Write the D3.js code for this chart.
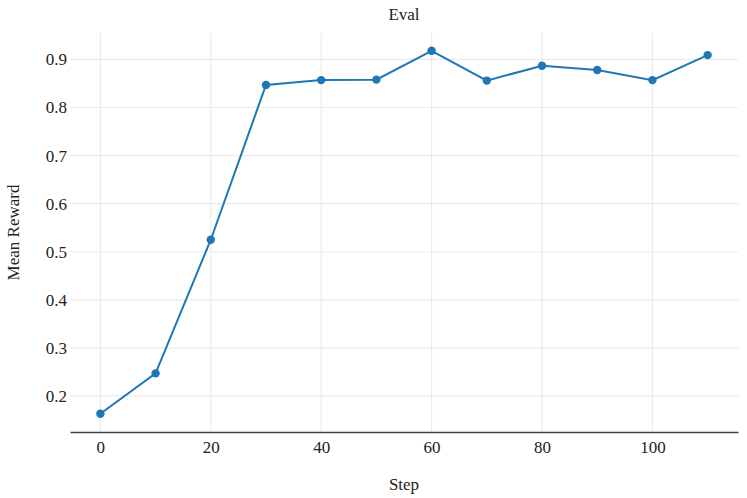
<!DOCTYPE html>
<html>
<head>
<meta charset="utf-8">
<script src="https://cdn.jsdelivr.net/npm/d3@7"></script>
<style>
  body { margin: 0; background: #fff; }
</style>
</head>
<body>
<div id="chart"></div>
<script>
// data
var steps = [0, 10, 20, 30, 40, 50, 60, 70, 80, 90, 100, 110];
var meanReward = [0.163, 0.247, 0.525, 0.847, 0.857, 0.858, 0.918, 0.856, 0.887, 0.878, 0.857, 0.909];
var xTicks = [0, 20, 40, 60, 80, 100];
var yTicks = [0.2, 0.3, 0.4, 0.5, 0.6, 0.7, 0.8, 0.9];

var serif = '"Liberation Serif", "DejaVu Serif", serif';
var W = 747, H = 498;
var margin = {top: 33, right: 9, bottom: 66, left: 70};
var width = W - margin.left - margin.right,
    height = H - margin.top - margin.bottom;

var svg = d3.select("#chart").append("svg")
    .attr("width", W)
    .attr("height", H)
    .style("font-family", serif);

var x = d3.scaleLinear().domain([-5.5, 115.5]).range([margin.left, margin.left + width]);
var y = d3.scaleLinear().domain([0.125, 0.955]).range([margin.top + height, margin.top]);

// grid
svg.append("g").selectAll("line").data(xTicks).enter().append("line")
    .attr("x1", function(d){ return x(d); }).attr("x2", function(d){ return x(d); })
    .attr("y1", margin.top).attr("y2", margin.top + height)
    .attr("stroke", "#ebebeb").attr("stroke-width", 1.2);
svg.append("g").selectAll("line").data(yTicks).enter().append("line")
    .attr("x1", margin.left).attr("x2", margin.left + width)
    .attr("y1", function(d){ return y(d); }).attr("y2", function(d){ return y(d); })
    .attr("stroke", "#ebebeb").attr("stroke-width", 1.2);

// x axis
var xAxis = svg.append("g")
    .attr("transform", "translate(0," + (margin.top + height) + ")")
    .call(d3.axisBottom(x).tickValues(xTicks).tickSize(0).tickPadding(9));
xAxis.attr("font-family", null).attr("font-size", null);
xAxis.select(".domain").attr("stroke", "#444").attr("stroke-width", 1.3);
xAxis.selectAll("text").style("font-family", serif).style("font-size", "17px").attr("fill", "#222");

// y axis (labels only)
var yAxis = svg.append("g")
    .attr("transform", "translate(" + margin.left + ",0)")
    .call(d3.axisLeft(y).tickValues(yTicks).tickFormat(d3.format(".1f")).tickSize(0).tickPadding(3));
yAxis.attr("font-family", null).attr("font-size", null);
yAxis.select(".domain").remove();
yAxis.selectAll("text").style("font-family", serif).style("font-size", "17px").attr("fill", "#222");

// line + markers
var line = d3.line()
    .x(function(d, i){ return x(steps[i]); })
    .y(function(d){ return y(d); });
svg.append("path")
    .datum(meanReward)
    .attr("d", line)
    .attr("fill", "none")
    .attr("stroke", "#1f77b4")
    .attr("stroke-width", 2);
svg.append("g").selectAll("circle").data(meanReward).enter().append("circle")
    .attr("cx", function(d, i){ return x(steps[i]); })
    .attr("cy", function(d){ return y(d); })
    .attr("r", 4.2)
    .attr("fill", "#1f77b4");

// titles
svg.append("text").attr("x", margin.left + width / 2).attr("y", 20)
    .attr("text-anchor", "middle").style("font-size", "17px").attr("fill", "#222").text("Eval");
svg.append("text").attr("x", margin.left + width / 2).attr("y", 490)
    .attr("text-anchor", "middle").style("font-size", "17px").attr("fill", "#222").text("Step");
svg.append("text")
    .attr("transform", "translate(19," + (margin.top + height / 2) + ") rotate(-90)")
    .attr("text-anchor", "middle").style("font-size", "17px").attr("fill", "#222").text("Mean Reward");
</script>
</body>
</html>
